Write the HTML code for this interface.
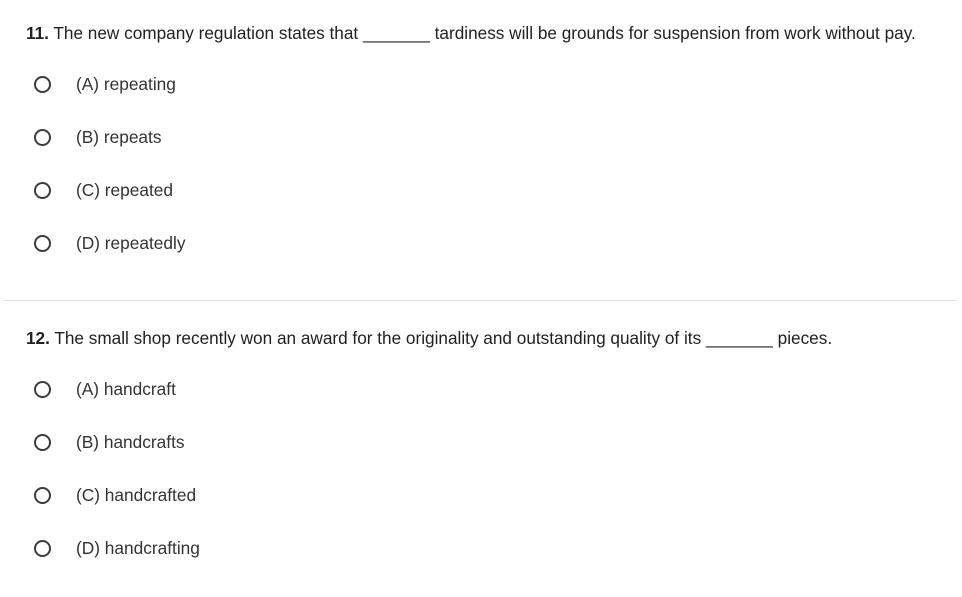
<!DOCTYPE html>
<html><head><meta charset="utf-8"><style>
body{margin:0;width:962px;height:597px;background:#fff;font-family:"Liberation Sans",sans-serif;color:#202124;position:relative;overflow:hidden}
.q{position:absolute;left:26px;font-size:17.2px;white-space:nowrap}
.opt{position:absolute;left:34px;height:20px;display:flex;align-items:center}
.r{width:13px;height:13px;border:2px solid #3c3c3c;border-radius:50%;box-sizing:content-box}
.opt span{position:absolute;left:42px;font-size:17.3px;color:#333;white-space:nowrap}
.div{position:absolute;left:4px;width:952px;top:300px;height:1px;background:#e3e3e3}
</style></head><body>
<div class="q" style="top:23px"><b>11.</b> The new company regulation states that _______ tardiness will be grounds for suspension from work without pay.</div>
<div class="opt" style="top:74px"><div class="r"></div><span>(A) repeating</span></div>
<div class="opt" style="top:127px"><div class="r"></div><span>(B) repeats</span></div>
<div class="opt" style="top:180px"><div class="r"></div><span>(C) repeated</span></div>
<div class="opt" style="top:233px"><div class="r"></div><span>(D) repeatedly</span></div>
<div class="div"></div>
<div class="q" style="top:328px"><b>12.</b> The small shop recently won an award for the originality and outstanding quality of its _______ pieces.</div>
<div class="opt" style="top:379px"><div class="r"></div><span>(A) handcraft</span></div>
<div class="opt" style="top:432px"><div class="r"></div><span>(B) handcrafts</span></div>
<div class="opt" style="top:485px"><div class="r"></div><span>(C) handcrafted</span></div>
<div class="opt" style="top:538px"><div class="r"></div><span>(D) handcrafting</span></div>
</body></html>
